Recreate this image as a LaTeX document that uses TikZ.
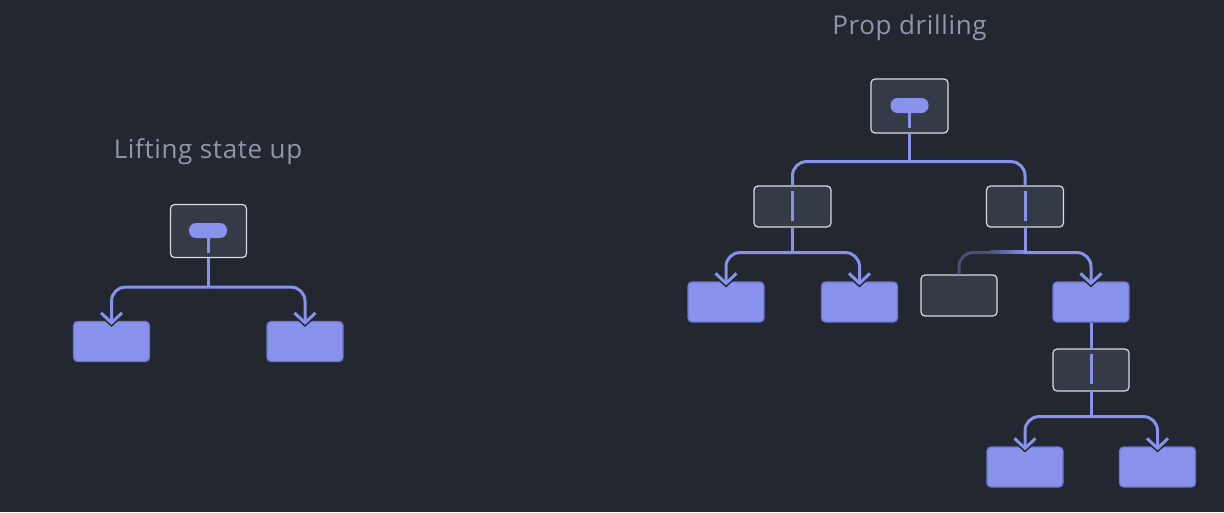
\documentclass[tikz,border=0pt]{standalone}
\usepackage{fontspec}
\setmainfont{Open Sans}[LetterSpace=2.5]
\usetikzlibrary{arrows.meta,calc}
\definecolor{bg}{HTML}{23272F}
\definecolor{cardc}{HTML}{343A46}
\definecolor{cardline}{HTML}{D9DCE2}
\definecolor{purp}{HTML}{8891EC}
\definecolor{purpdark}{HTML}{6C74D0}
\definecolor{dimc}{HTML}{4A5078}
\definecolor{titlec}{HTML}{8E97AC}
\begin{document}
\begin{tikzpicture}[x=1pt,y=-1pt,
  cardbox/.style={draw=cardline, fill=cardc, line width=1.2pt, rounded corners=4pt, minimum width=76pt, minimum height=41pt, inner sep=0pt},
  leafbox/.style={draw=purpdark, fill=purp, line width=1.2pt, rounded corners=4pt, minimum width=76pt, minimum height=40pt, inner sep=0pt},
  pillbox/.style={fill=purp, rounded corners=7pt, minimum width=38pt, minimum height=15pt, inner sep=0pt},
  conn/.style={draw=purp, line width=3pt, rounded corners=14pt},
  dimconn/.style={draw=dimc, line width=3pt, rounded corners=14pt},
  halo/.style={draw=bg, line width=7pt, -{Straight Barb[length=10pt,width=22pt]}},
  tipP/.style={-{Straight Barb[length=10pt,width=21pt]}},
  titletext/.style={text=titlec, font=\fontsize{26}{30}\selectfont, inner sep=0pt, anchor=base},
]
\fill[bg] (0,0) rectangle (1224,512);
\useasboundingbox (0,0) rectangle (1224,512);

% titles
\node[titletext] (t1) at (208,158) {Lifting state up};
\node[titletext] (t2) at (909.5,34) {Prop drilling};

% left tree
\node[cardbox, minimum height=53pt] (a) at (208.5,231) {};
\node[pillbox] (ap) at (208,230.5) {};
\coordinate (as) at (208,253);
\node[leafbox] (a1) at (111.5,341.5) {};
\node[leafbox] (a2) at (305,341.5) {};
\coordinate (aj) at ($(a.south)+(0,29)$);

% right tree
\node[cardbox, minimum width=77pt, minimum height=54pt] (r) at (909.5,106) {};
\node[pillbox] (rp) at (909.5,105.5) {};
\coordinate (rs) at (909.5,128);
\coordinate (rj) at ($(r.south)+(0,28)$);
\node[cardbox, minimum width=77pt] (m1) at (792.5,206.5) {};
\node[cardbox, minimum width=77pt] (m2) at (1025,206.5) {};
\coordinate (m1j) at ($(m1.south)+(0,25)$);
\coordinate (m2j) at ($(m2.south)+(0,25)$);
\node[leafbox] (b1) at (726,302) {};
\node[leafbox] (b2) at (859.5,302) {};
\node[cardbox] (g) at (959,295.5) {};
\node[leafbox] (b3) at (1091,302) {};
\node[cardbox, minimum height=42pt] (m3) at (1091,370) {};
\coordinate (m3j) at ($(m3.south)+(0,25)$);
\node[leafbox] (c1) at (1025,467) {};
\node[leafbox] (c2) at (1157.5,467) {};

% halos under arrow tips
\foreach \n in {a1,a2,b1,b2,b3,c1,c2}
  \draw[halo] ($(\n.north)+(0,-6)$) -- ($(\n.north)+(0,6)$);

% left connectors
\draw[conn] (ap.south) -- (as);
\draw[conn] (a.south) -- (aj);
\draw[conn,tipP] (aj) -| ($(a1.north)+(0,4)$);
\draw[conn,tipP] (aj) -| ($(a2.north)+(0,4)$);

% right connectors
\draw[conn] (rp.south) -- (rs);
\draw[conn] (r.south) -- (rj);
\draw[conn] (rj) -| (m1.north);
\draw[conn] (rj) -| (m2.north);
\draw[conn] ($(m1.north)+(0,6)$) -- ($(m1.south)+(0,-7)$);
\draw[conn] ($(m2.north)+(0,6)$) -- ($(m2.south)+(0,-7)$);
\draw[conn] (m1.south) -- (m1j);
\draw[conn,tipP] (m1j) -| ($(b1.north)+(0,4)$);
\draw[conn,tipP] (m1j) -| ($(b2.north)+(0,4)$);
\draw[dimconn] (m2j) -| (g.north);
\shade[left color=dimc, right color=purp] (990,250.5) rectangle (1026.5,253.5);
\draw[conn] (m2.south) -- (m2j);
\draw[conn,tipP] (m2j) -| ($(b3.north)+(0,4)$);
\draw[conn] (b3.south) -- (m3.north);
\draw[conn] ($(m3.north)+(0,6)$) -- ($(m3.south)+(0,-8)$);
\draw[conn] (m3.south) -- (m3j);
\draw[conn,tipP] (m3j) -| ($(c1.north)+(0,4)$);
\draw[conn,tipP] (m3j) -| ($(c2.north)+(0,4)$);
\end{tikzpicture}
\end{document}
